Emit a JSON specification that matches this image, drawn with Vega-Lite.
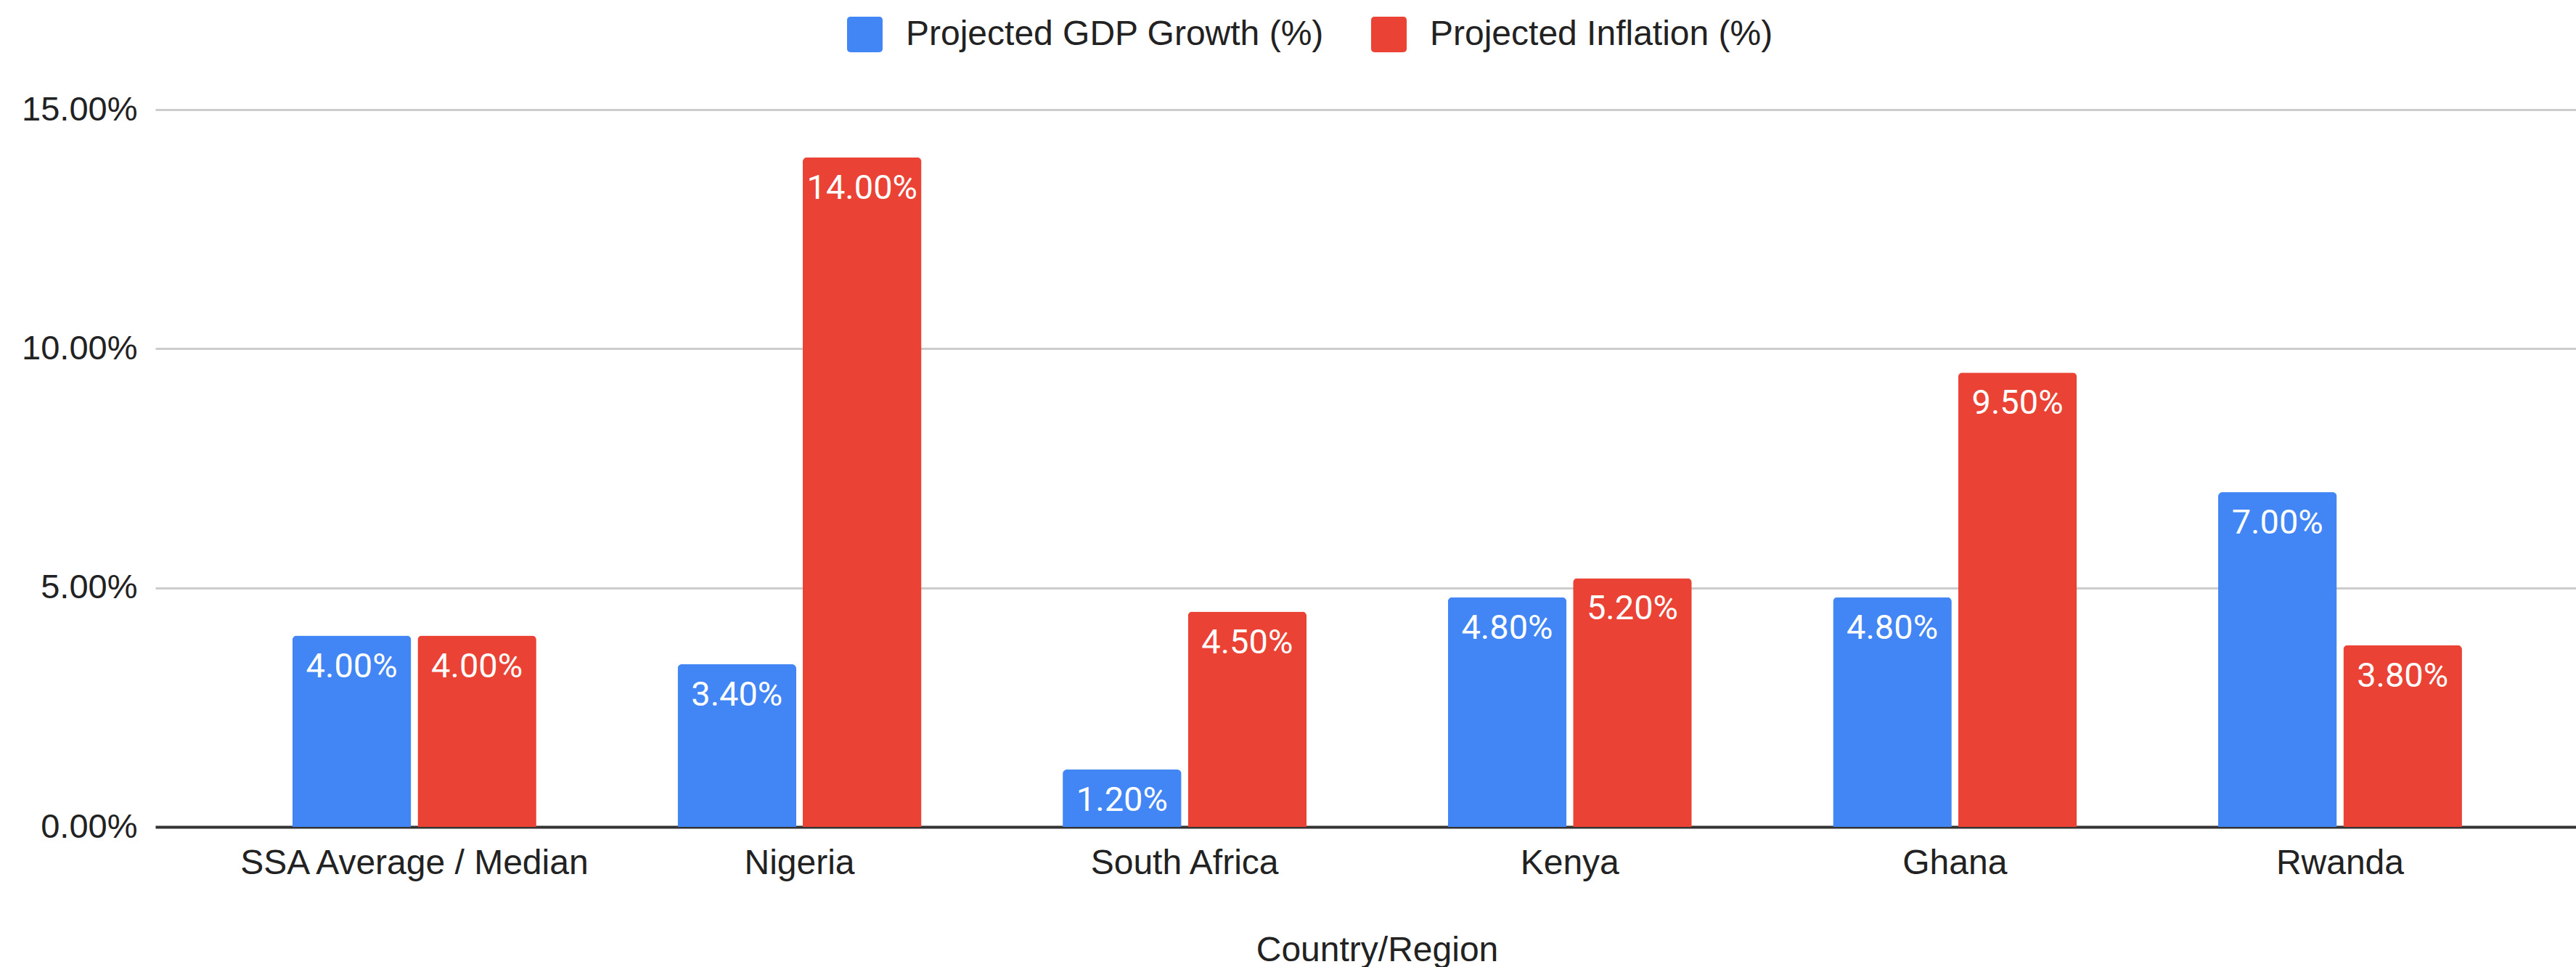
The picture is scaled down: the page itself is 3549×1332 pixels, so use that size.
{
  "$schema": "https://vega.github.io/schema/vega-lite/v6.json",
  "width": 3335,
  "height": 988,
  "autosize": {"type": "none"},
  "padding": {"left": 214, "top": 151, "right": 0, "bottom": 193},
  "background": "white",
  "config": {"view": {"stroke": null}, "font": "Liberation Sans"},
  "data": {
    "values": [
      {"country": "SSA Average / Median", "series": "Projected GDP Growth (%)", "value": 0.04},
      {"country": "SSA Average / Median", "series": "Projected Inflation (%)", "value": 0.04},
      {"country": "Nigeria", "series": "Projected GDP Growth (%)", "value": 0.034},
      {"country": "Nigeria", "series": "Projected Inflation (%)", "value": 0.14},
      {"country": "South Africa", "series": "Projected GDP Growth (%)", "value": 0.012},
      {"country": "South Africa", "series": "Projected Inflation (%)", "value": 0.045},
      {"country": "Kenya", "series": "Projected GDP Growth (%)", "value": 0.048},
      {"country": "Kenya", "series": "Projected Inflation (%)", "value": 0.052},
      {"country": "Ghana", "series": "Projected GDP Growth (%)", "value": 0.048},
      {"country": "Ghana", "series": "Projected Inflation (%)", "value": 0.095},
      {"country": "Rwanda", "series": "Projected GDP Growth (%)", "value": 0.07},
      {"country": "Rwanda", "series": "Projected Inflation (%)", "value": 0.038}
    ]
  },
  "encoding": {
    "x": {
      "field": "country",
      "type": "nominal",
      "sort": ["SSA Average / Median", "Nigeria", "South Africa", "Kenya", "Ghana", "Rwanda"],
      "scale": {"paddingInner": 0.3668, "paddingOuter": 0.326, "align": 0.546},
      "axis": {
        "title": "Country/Region",
        "titleFont": "Liberation Sans",
        "titleFontSize": 48,
        "titleFontWeight": "normal",
        "titleColor": "#222222",
        "titleX": 1683,
        "titleY": 184,
        "titleBaseline": "alphabetic",
        "titleAlign": "center",
        "labelAngle": 0,
        "labelFont": "Liberation Sans",
        "labelFontSize": 48,
        "labelColor": "#222222",
        "labelPadding": 26,
        "labelLimit": 1000,
        "ticks": false,
        "tickSize": 0,
        "domainColor": "#333333",
        "domainWidth": 4,
        "grid": false
      }
    },
    "xOffset": {
      "field": "series",
      "type": "nominal",
      "sort": ["Projected GDP Growth (%)", "Projected Inflation (%)"],
      "scale": {"paddingInner": 0.052, "paddingOuter": 0}
    },
    "y": {
      "field": "value",
      "type": "quantitative",
      "scale": {"domain": [0, 0.15], "nice": false},
      "axis": {
        "title": null,
        "values": [0, 0.05, 0.1, 0.15],
        "format": ".2%",
        "labelFont": "Liberation Sans",
        "labelFontSize": 47,
        "labelColor": "#222222",
        "labelPadding": 25,
        "ticks": false,
        "tickSize": 0,
        "domain": false,
        "gridColor": "#cccccc",
        "gridWidth": 3
      }
    }
  },
  "layer": [
    {
      "mark": {"type": "bar", "cornerRadiusTopLeft": 6, "cornerRadiusTopRight": 6},
      "encoding": {
        "color": {
          "field": "series",
          "type": "nominal",
          "sort": ["Projected GDP Growth (%)", "Projected Inflation (%)"],
          "scale": {"domain": ["Projected GDP Growth (%)", "Projected Inflation (%)"], "range": ["#4285F4", "#EA4335"]},
          "legend": {
            "orient": "none",
            "legendX": 953,
            "legendY": -128,
            "direction": "horizontal",
            "title": null,
            "symbolType": "M-0.8,-1 L0.8,-1 Q1,-1 1,-0.8 L1,0.8 Q1,1 0.8,1 L-0.8,1 Q-1,1 -1,0.8 L-1,-0.8 Q-1,-1 -0.8,-1 Z",
            "symbolSize": 2401,
            "symbolStrokeWidth": 0,
            "labelFont": "Liberation Sans",
            "labelFontSize": 48,
            "labelColor": "#222222",
            "labelOffset": 32,
            "columnPadding": 64,
            "padding": 0,
            "labelLimit": 1000
          }
        }
      }
    },
    {
      "mark": {"type": "text", "baseline": "alphabetic", "align": "center", "dy": 57, "color": "white", "font": "Roboto", "fontSize": 47},
      "encoding": {
        "text": {"field": "value", "type": "quantitative", "format": ".2%"}
      }
    }
  ]
}
